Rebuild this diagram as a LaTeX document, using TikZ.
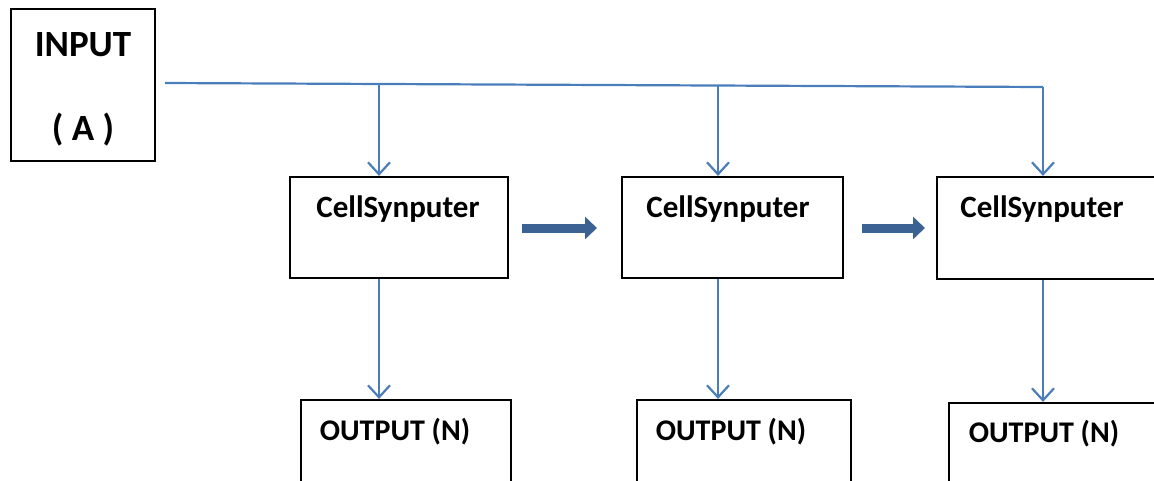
\documentclass[tikz,border=0pt]{standalone}
\usepackage{fontspec}
\setmainfont{Carlito}
\usetikzlibrary{arrows.meta}
\definecolor{lineblue}{HTML}{4A7EBB}
\definecolor{darkblue}{HTML}{3C6193}
\tikzset{
  box/.style={draw=black, line width=2.2pt, rectangle, inner sep=0pt},
  lbl/.style={font=\bfseries\fontsize{31}{34}\selectfont, inner sep=0pt},
  olbl/.style={font=\bfseries\fontsize{30}{33}\selectfont, inner sep=0pt},
  big/.style={font=\bfseries\fontsize{37}{42}\selectfont, inner sep=0pt},
  feed/.style={draw=lineblue, line width=2.2pt, -{Straight Barb[length=12pt,width=22pt,line width=2.2pt]}},
  wire/.style={draw=lineblue, line width=2.2pt},
  fat/.style={draw=darkblue, line width=9pt, -{Triangle[length=12pt,width=22pt]}}
}
\begin{document}
\begin{tikzpicture}[x=1pt,y=-1pt]
\useasboundingbox (0,0) rectangle (1154,480);
\clip (0,0) rectangle (1154,480);
% input
\node[box, minimum width=144pt, minimum height=152pt] (in) at (83,85) {};
\node[big] (t1) at (83,45) {INPUT};
\node[big] (t2) at (83,130) {( A )};
% cells
\node[box, minimum width=218pt, minimum height=101pt] (c1) at (399,227.5) {};
\node[box, minimum width=221pt, minimum height=101pt] (c2) at (732.5,227.5) {};
\node[box, minimum width=240pt, minimum height=102pt] (c3) at (1057,228) {};
\node[lbl] (c1t) at (398,209) {CellSynputer};
\node[lbl] (c2t) at (728,209) {CellSynputer};
\node[lbl] (c3t) at (1042,209) {CellSynputer};
% outputs
\node[box, minimum width=210pt, minimum height=200pt] (o1) at (406,500) {};
\node[box, minimum width=214pt, minimum height=200pt] (o2) at (744,500) {};
\node[box, minimum width=230pt, minimum height=200pt] (o3) at (1064,503) {};
\node[olbl] (o1t) at (395,432) {OUTPUT (N)};
\node[olbl] (o2t) at (731,432) {OUTPUT (N)};
\node[olbl] (o3t) at (1044,434) {OUTPUT (N)};
% bus
\coordinate (b0) at (165,83);
\coordinate (b1) at (379,85);
\coordinate (b2) at (718,86);
\coordinate (b3) at (1043,87);
\draw[wire] (b0) -- (b3);
\draw[feed] (b1) -- (c1.north -| b1);
\draw[feed] (b2) -- (c2.north -| b2);
\draw[feed] (b3) -- (c3.north -| b3);
% output arrows
\draw[feed] (c1.south -| b1) -- (o1.north -| b1);
\draw[feed] (c2.south -| b2) -- (o2.north -| b2);
\draw[feed] (c3.south -| b3) -- (o3.north -| b3);
% thick arrows
\coordinate (f1a) at (522,228);
\coordinate (f1b) at (597,228);
\coordinate (f2a) at (862,228);
\coordinate (f2b) at (925,228);
\draw[fat] (f1a) -- (f1b);
\draw[fat] (f2a) -- (f2b);
\end{tikzpicture}
\end{document}
